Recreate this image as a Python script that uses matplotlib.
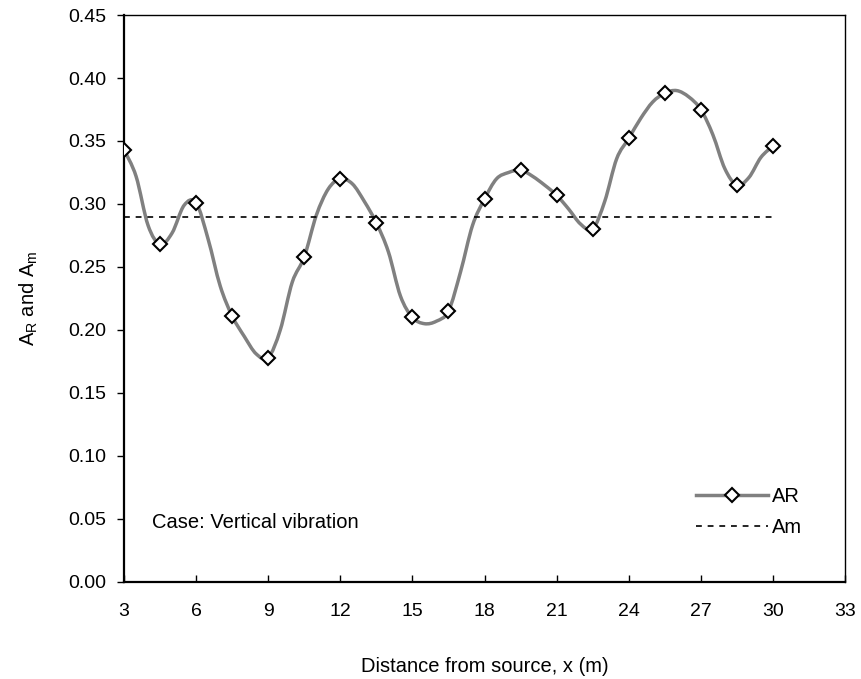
import numpy as np
import matplotlib
matplotlib.use("Agg")
import matplotlib.pyplot as plt
from matplotlib.path import Path
from matplotlib.patches import PathPatch
from matplotlib.lines import Line2D

plt.rcParams['font.family'] = ['Liberation Sans', 'DejaVu Sans']
plt.rcParams['mathtext.fontset'] = 'custom'
plt.rcParams['mathtext.rm'] = 'Liberation Sans'

# AR curve, read every 0.5 m (markers sit on every 3rd point, i.e. every 1.5 m)
line_x = [3.0, 3.5, 4.0, 4.5, 5.0, 5.5, 6.0, 6.5, 7.0, 7.5, 8.0, 8.5, 9.0, 9.5,
          10.0, 10.5, 11.0, 11.5, 12.0, 12.5, 13.0, 13.5, 14.0, 14.5, 15.0, 15.5,
          16.0, 16.5, 17.0, 17.5, 18.0, 18.5, 19.0, 19.5, 20.0, 20.5, 21.0, 21.5,
          22.0, 22.5, 23.0, 23.5, 24.0, 24.5, 25.0, 25.5, 26.0, 26.5, 27.0, 27.5,
          28.0, 28.5, 29.0, 29.5, 30.0]
ar_values = [0.343, 0.322, 0.283, 0.268, 0.277, 0.299, 0.301, 0.272, 0.235, 0.211,
             0.195, 0.181, 0.178, 0.200, 0.238, 0.258, 0.291, 0.312, 0.320, 0.316,
             0.302, 0.285, 0.262, 0.227, 0.210, 0.205, 0.207, 0.215, 0.246, 0.283,
             0.304, 0.320, 0.325, 0.327, 0.322, 0.315, 0.307, 0.296, 0.284, 0.280,
             0.302, 0.336, 0.352, 0.368, 0.381, 0.388, 0.390, 0.385, 0.375, 0.355,
             0.328, 0.315, 0.321, 0.337, 0.346]
am_value = 0.29
x_ticks = [3, 6, 9, 12, 15, 18, 21, 24, 27, 30, 33]
y_ticks = [0.00, 0.05, 0.10, 0.15, 0.20, 0.25, 0.30, 0.35, 0.40, 0.45]

LINE_GREY = '#808080'


def smooth_path(xs, ys):
    # Excel-like smoothed line: cubic bezier segments through every point
    pts = np.column_stack([xs, ys])
    verts = [pts[0]]
    codes = [Path.MOVETO]
    n = len(pts)
    for i in range(n - 1):
        p0 = pts[i - 1] if i > 0 else pts[i]
        p1 = pts[i]
        p2 = pts[i + 1]
        p3 = pts[i + 2] if i + 2 < n else pts[i + 1]
        c1 = p1 + (p2 - p0) / 6.0
        c2 = p2 - (p3 - p1) / 6.0
        verts += [c1, c2, p2]
        codes += [Path.CURVE4] * 3
    return Path(verts, codes)


fig = plt.figure(figsize=(8.62, 6.79), dpi=100)
ax = fig.add_axes([0.1439, 0.1429, 0.8364, 0.8350])

curve = PathPatch(smooth_path(line_x, ar_values), facecolor='none',
                  edgecolor=LINE_GREY, linewidth=2.5, capstyle='round', zorder=2)
ax.add_patch(curve)
ax.plot(line_x, ar_values, linestyle='none', marker='D', markevery=3,
        markersize=7, markerfacecolor='white', markeredgecolor='black',
        markeredgewidth=1.5, zorder=4)
ax.plot([line_x[0], line_x[-1]], [am_value, am_value], color='black',
        linewidth=1.2, linestyle=(0, (3.5, 3.5)), zorder=3)

ax.set_xlim(3, 33)
ax.set_ylim(0, 0.45)
ax.set_xticks(x_ticks)
ax.set_yticks(y_ticks)
ax.set_yticklabels([f'{v:.2f}' for v in y_ticks])
ax.tick_params(axis='x', direction='in', length=5, width=1, labelsize=14, pad=15)
ax.tick_params(axis='y', direction='out', length=5, width=1, labelsize=14, pad=8)

for side in ['left', 'bottom']:
    ax.spines[side].set_linewidth(1.6)
for side in ['top', 'right']:
    ax.spines[side].set_linewidth(1.0)

ax.set_xlabel('Distance from source, x (m)', fontsize=14.5, labelpad=27)
ax.set_ylabel(r'A$_\mathregular{R}$ and A$_\mathregular{m}$', fontsize=14.5, labelpad=20)

ax.text(4.15, 0.047, 'Case: Vertical vibration', fontsize=14.5, va='center', ha='left')

handles = [
    Line2D([], [], color=LINE_GREY, linewidth=2.5, marker='D', markersize=7,
           markerfacecolor='white', markeredgecolor='black', markeredgewidth=1.5),
    Line2D([], [], color='black', linewidth=1.2, linestyle=(0, (3.5, 3.5))),
]
ax.legend(handles, ['AR', 'Am'], loc='lower right', bbox_to_anchor=(0.952, 0.065),
          borderaxespad=0, frameon=False, fontsize=14.5, handlelength=3.6,
          handletextpad=0.2, labelspacing=0.6, numpoints=1)

fig.savefig('out.png', dpi=100)
